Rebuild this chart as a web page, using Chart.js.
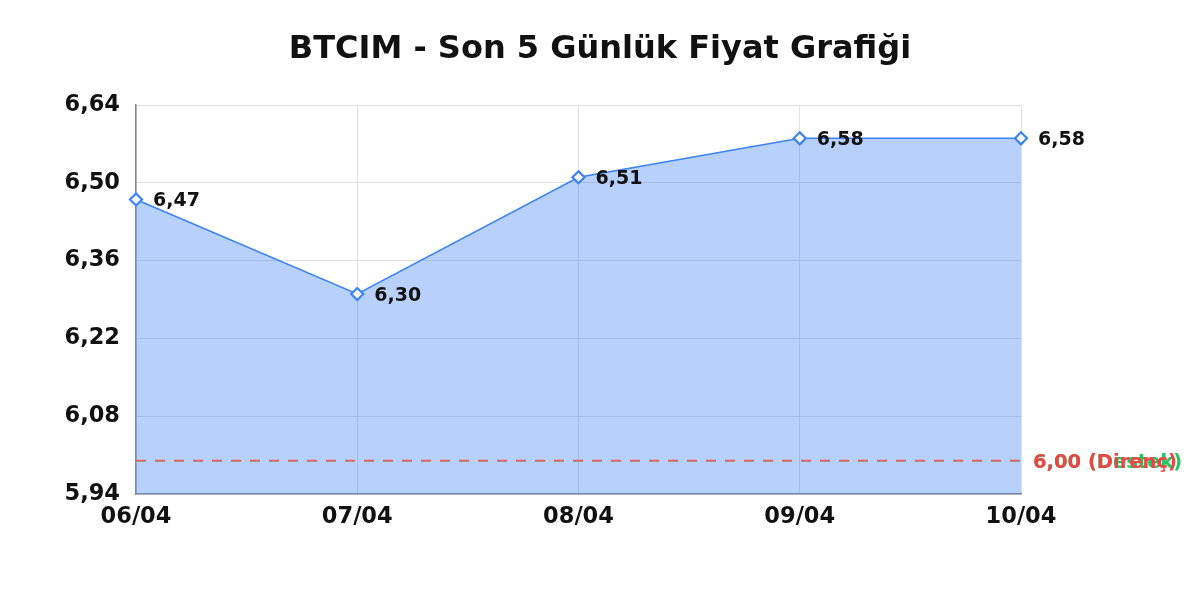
<!DOCTYPE html>
<html>
<head>
<meta charset="utf-8">
<script src="https://cdn.jsdelivr.net/npm/chart.js@4"></script>
<style>
  body { margin: 0; background: #fff; }
  #chart { display: block; }
</style>
</head>
<body>
<canvas id="chart" width="1200" height="600"></canvas>
<script>
const TITLE = "BTCIM - Son 5 Günlük Fiyat Grafiği";
const days = ["06/04", "07/04", "08/04", "09/04", "10/04"];
const prices = [6.47, 6.30, 6.51, 6.58, 6.58];
const supportLevel = [6.00, 6.00, 6.00, 6.00, 6.00];
const resistLevel = [6.00, 6.00, 6.00, 6.00, 6.00];
const yTicks = [5.94, 6.08, 6.22, 6.36, 6.50, 6.64];

const FONT = "'DejaVu Sans', sans-serif";
const BLUE = 'rgb(59, 130, 246)';
const RED = 'rgb(239, 68, 68)';
const GREEN = 'rgb(34, 197, 94)';

// turkish style decimal comma
function fmt(v) {
    return v.toFixed(2).replace('.', ',');
}

// title centered on the whole canvas, not the chart area
const titlePlugin = {
    id: 'centerTitle',
    afterDraw(chart) {
        const ctx = chart.ctx;
        ctx.save();
        ctx.font = "bold 32px " + FONT;
        ctx.fillStyle = '#111';
        ctx.textAlign = 'center';
        ctx.textBaseline = 'middle';
        ctx.fillText(TITLE, chart.width / 2, 49.5);
        ctx.restore();
    }
};

// value labels next to points + level labels on the right
const labelPlugin = {
    id: 'valueLabels',
    afterDatasetsDraw(chart) {
        const ctx = chart.ctx;
        ctx.save();
        ctx.textAlign = 'left';
        ctx.textBaseline = 'middle';

        const meta = chart.getDatasetMeta(0);
        ctx.font = "bold 19px " + FONT;
        ctx.fillStyle = '#111';
        meta.data.forEach((pt, i) => {
            ctx.fillText(fmt(prices[i]), pt.x + 17, pt.y + 2);
        });

        const y = chart.scales.y;
        const right = chart.chartArea.right;
        const sup = supportLevel[supportLevel.length - 1];
        const res = resistLevel[resistLevel.length - 1];
        ctx.font = "bold 19.5px " + FONT;
        ctx.fillStyle = GREEN;
        ctx.fillText(fmt(sup) + " (Destek)", right + 12, y.getPixelForValue(sup) + 2);
        ctx.fillStyle = RED;
        ctx.fillText(fmt(res) + " (Direnç)", right + 12, y.getPixelForValue(res) + 2);
        ctx.restore();
    }
};

const ctx = document.getElementById('chart').getContext('2d');
const chart = new Chart(ctx, {
    type: 'line',
    data: {
        labels: days,
        datasets: [{
            label: 'Fiyat',
            data: prices,
            order: 3,
            borderColor: BLUE,
            borderWidth: 1.5,
            backgroundColor: 'rgba(59, 130, 246, 0.37)',
            fill: 'start',
            tension: 0,
            pointStyle: 'rectRot',
            pointRadius: 6,
            pointBorderWidth: 2.2,
            pointBackgroundColor: '#fff',
            pointBorderColor: BLUE
        }, {
            label: 'Destek',
            data: supportLevel,
            order: 2,
            borderColor: GREEN,
            borderWidth: 1.5,
            borderDash: [10, 9],
            pointRadius: 0,
            fill: false
        }, {
            label: 'Direnç',
            data: resistLevel,
            order: 1,
            borderColor: 'rgb(240, 90, 90)',
            borderWidth: 1.6,
            borderDash: [10, 9],
            pointRadius: 0,
            fill: false
        }]
    },
    options: {
        responsive: false,
        animation: false,
        layout: {
            padding: { top: 105, right: 179, bottom: 66, left: 0 }
        },
        plugins: {
            legend: { display: false },
            title: { display: false },
            tooltip: { enabled: false }
        },
        scales: {
            x: {
                offset: false,
                grid: { color: '#e0e0e0', drawTicks: false },
                border: { color: '#888', width: 1.5 },
                ticks: {
                    color: '#111',
                    padding: 10,
                    maxRotation: 0,
                    font: { family: FONT, size: 22.5, weight: 'bold' }
                },
                afterFit(scale) { scale.height = 40; }
            },
            y: {
                min: yTicks[0],
                max: yTicks[yTicks.length - 1],
                afterBuildTicks(scale) {
                    scale.ticks = yTicks.map(v => ({ value: v }));
                },
                grid: { color: '#e0e0e0', drawTicks: false },
                border: { color: '#888', width: 1.5 },
                ticks: {
                    color: '#111',
                    padding: 16,
                    font: { family: FONT, size: 22.5, weight: 'bold' },
                    callback: (v) => fmt(v)
                },
                afterFit(scale) { scale.width = 136; }
            }
        }
    },
    plugins: [titlePlugin, labelPlugin]
});
</script>
</body>
</html>
